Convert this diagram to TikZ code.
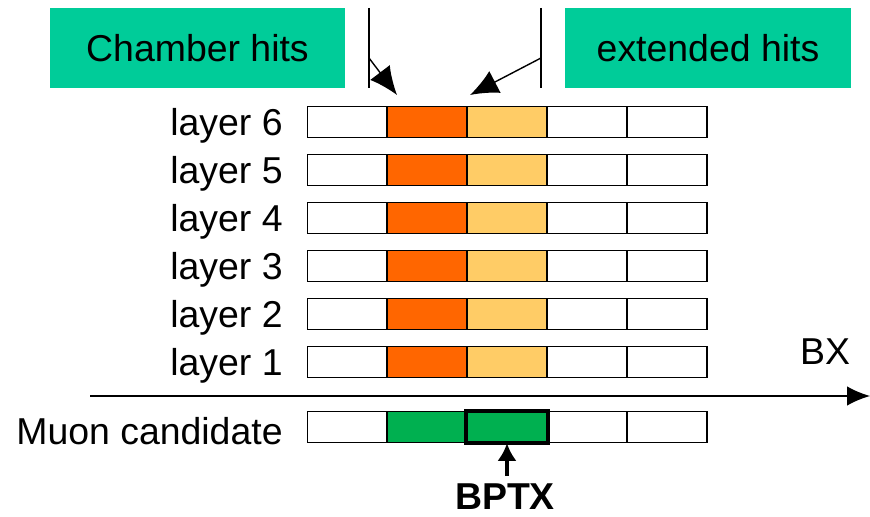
\documentclass[tikz,border=0pt]{standalone}
\usepackage{fontspec}
\setmainfont{Liberation Sans}
\usetikzlibrary{arrows.meta}
\definecolor{hitgreen}{RGB}{0,204,153}
\definecolor{hitorange}{RGB}{255,102,0}
\definecolor{hityellow}{RGB}{255,204,102}
\definecolor{muongreen}{RGB}{0,176,80}
\newcommand{\hitcell}[4]{\node[draw,line width=0.9pt,fill=#4,minimum width=1.6cm,minimum height=0.62cm,inner sep=0pt] (#1) at (#2,#3) {};}
\newcommand{\hitrow}[4]{\hitcell{#1a}{347.5}{#2}{white}\hitcell{#1b}{427}{#2}{#3}
    \hitcell{#1c}{507}{#2}{#4}\hitcell{#1d}{587}{#2}{white}\hitcell{#1e}{667}{#2}{white}}
\newcommand{\rowlabel}[3]{\node[anchor=east,inner sep=0pt] (#1) at (283,#2+4) {#3};}

\begin{document}
\begin{tikzpicture}[x=0.02cm,y=-0.02cm,font=\fontsize{21.3}{25}\selectfont]
    \useasboundingbox (0,0) rectangle (870,517);
    \node[fill=hitgreen,minimum width=5.9cm,minimum height=1.6cm] (chamber) at (197.5,48) {Chamber hits};
    \node[fill=hitgreen,minimum width=5.72cm,minimum height=1.6cm] (extended) at (708,48) {extended hits};
    \hitrow{L6}{122}{hitorange}{hityellow}    \rowlabel{l6}{122}{layer 6}
    \hitrow{L5}{170}{hitorange}{hityellow}    \rowlabel{l5}{170}{layer 5}
    \hitrow{L4}{218}{hitorange}{hityellow}    \rowlabel{l4}{218}{layer 4}
    \hitrow{L3}{266}{hitorange}{hityellow}    \rowlabel{l3}{266}{layer 3}
    \hitrow{L2}{314}{hitorange}{hityellow}    \rowlabel{l2}{314}{layer 2}
    \hitrow{L1}{362}{hitorange}{hityellow}    \rowlabel{l1}{362}{layer 1}
    \hitrow{M}{427}{muongreen}{muongreen}     \rowlabel{muon}{427}{Muon candidate}
    \draw[line width=2.3pt] (Mc.north west) rectangle (Mc.south east);
    % time axis
    \coordinate (ax0) at (90,396); \coordinate (ax1) at (870,396);
    \draw[thick,-{Latex[length=13pt,width=11pt]}] (ax0) -- (ax1);
    \node (bx) at (825,352) {BX};
    % markers for the hit windows
    \coordinate (lt) at (369,8); \coordinate (lb) at (369,88); \coordinate (lk) at (369,58);
    \coordinate (rt) at (541,8); \coordinate (rb) at (541,88); \coordinate (rk) at (541,58);
    \coordinate (lh) at (397,95); \coordinate (rh) at (470,95);
    \draw[thick] (lt) -- (lb); \draw[thick] (rt) -- (rb);
    \draw[thick,-{Latex[length=16pt,width=14pt]}] (lk) -- (lh);
    \draw[thick,-{Latex[length=16pt,width=14pt]}] (rk) -- (rh);
    \node[font=\fontsize{21.3}{25}\selectfont\bfseries] (bptx) at (505,497) {BPTX};
    \coordinate (bp) at (507,476);
    \draw[line width=2pt,-{Latex[length=10pt,width=11pt]}] (bp) -- (Mc.south);
\end{tikzpicture}
\end{document}
